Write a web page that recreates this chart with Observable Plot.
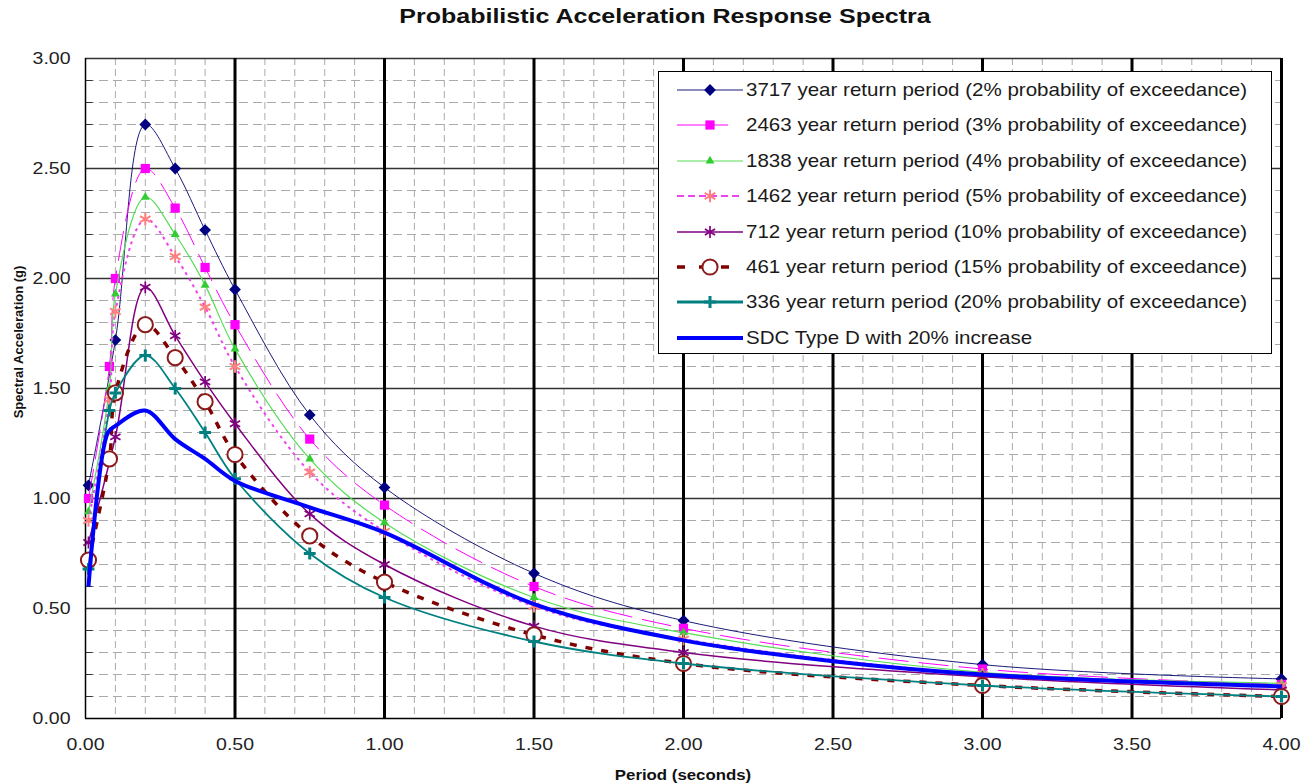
<!DOCTYPE html>
<html><head><meta charset="utf-8">
<script src="https://cdn.jsdelivr.net/npm/d3@7"></script>
<script src="https://cdn.jsdelivr.net/npm/@observablehq/plot@0.6"></script>
<style>
html,body{margin:0;padding:0;background:#fff;}
#wrap{position:relative;width:1303px;height:784px;overflow:hidden;font-family:"Liberation Sans",Arial,sans-serif;color:#111;}
#title{position:absolute;left:665px;top:16px;transform:translate(-50%,-50%) scaleX(1.22);white-space:nowrap;font-weight:bold;font-size:20.5px;}
#chart{position:absolute;left:0;top:34px;}
#ylab{position:absolute;left:18px;top:342px;transform:translate(-50%,-50%) rotate(-90deg);white-space:nowrap;font-weight:bold;font-size:13px;}
#xlab{position:absolute;left:683px;top:775px;transform:translate(-50%,-50%) scaleX(1.2);white-space:nowrap;font-weight:bold;font-size:14px;}
#legend{position:absolute;left:658px;top:71px;width:612px;height:281px;border:1px solid #000;background:#fff;}
.row{position:absolute;left:0;height:24px;width:612px;}
.row svg{position:absolute;left:10px;top:0;}
.row span{position:absolute;left:87px;top:0;line-height:24px;font-size:18.5px;white-space:nowrap;transform:scaleX(1.11);transform-origin:0 50%;color:#1a1a1a;}
</style></head>
<body><div id="wrap">
<div id="title">Probabilistic Acceleration Response Spectra</div>
<div id="chart"></div>
<div id="ylab">Spectral Acceleration (g)</div>
<div id="xlab">Period (seconds)</div>
<div id="legend"></div>
</div>
<script>
// ---- data ----
const periodsA = [0.01, 0.1, 0.2, 0.3, 0.4, 0.5, 0.75, 1.0, 1.5, 2.0, 3.0, 4.0];
const periodsB = [0.01, 0.08, 0.1, 0.2, 0.3, 0.4, 0.5, 0.75, 1.0, 1.5, 2.0, 3.0, 4.0];
const periodsSDC = [0.01, 0.075, 0.1, 0.2, 0.3, 0.4, 0.5, 0.75, 1.0, 1.5, 2.0, 2.5, 3.0, 4.0];

const sa3717 = [1.06, 1.72, 2.70, 2.50, 2.22, 1.95, 1.38, 1.05, 0.66, 0.445, 0.245, 0.18];
const sa2463 = [1.00, 1.60, 2.00, 2.50, 2.32, 2.05, 1.79, 1.27, 0.97, 0.60, 0.41, 0.225, 0.155];
const sa1838 = [0.94, 1.50, 1.93, 2.37, 2.20, 1.97, 1.68, 1.18, 0.89, 0.55, 0.39, 0.21, 0.16];
const sa1462 = [0.90, 1.45, 1.85, 2.27, 2.10, 1.87, 1.60, 1.12, 0.85, 0.51, 0.36, 0.20, 0.15];
const sa712  = [0.80, 1.28, 1.96, 1.74, 1.53, 1.34, 0.93, 0.70, 0.42, 0.30, 0.19, 0.13];
const sa461  = [0.72, 1.18, 1.48, 1.79, 1.64, 1.44, 1.20, 0.83, 0.62, 0.38, 0.25, 0.15, 0.10];
const sa336  = [0.68, 1.40, 1.48, 1.65, 1.50, 1.30, 1.09, 0.75, 0.55, 0.35, 0.25, 0.15, 0.10];
const saSDC  = [0.60, 1.30, 1.33, 1.40, 1.27, 1.18, 1.08, 0.96, 0.845, 0.52, 0.355, 0.26, 0.20, 0.146];

const seriesNames = [
  "3717 year return period (2% probability of exceedance)",
  "2463 year return period (3% probability of exceedance)",
  "1838 year return period (4% probability of exceedance)",
  "1462 year return period (5% probability of exceedance)",
  "712 year return period (10% probability of exceedance)",
  "461 year return period (15% probability of exceedance)",
  "336 year return period (20% probability of exceedance)",
  "SDC Type D with 20% increase"
];
const xTicks = [0, 0.5, 1, 1.5, 2, 2.5, 3, 3.5, 4];
const yTicks = [0, 0.5, 1, 1.5, 2, 2.5, 3];

// ---- styles ----
const styles = [
  {periods: periodsA, values: sa3717, stroke: "#1a1a7a", width: 1, dash: null, legendDash: null, symbol: "diamond2", r: 5.3, mfill: "#000080", mstroke: "none", msw: 0},
  {periods: periodsB, values: sa2463, stroke: "#ff00ff", width: 1, dash: "30,10", legendDash: null, legendEnd: 727, symbol: "square", r: 5.2, mfill: "#ff00ff", mstroke: "none", msw: 0},
  {periods: periodsB, values: sa1838, stroke: "#55dd55", width: 1.2, dash: null, legendDash: null, symbol: "triangle", r: 3.3, mfill: "#33cc33", mstroke: "none", msw: 0},
  {periods: periodsB, values: sa1462, stroke: "#ee44ee", width: 2, dash: "3,4", legendDash: "7,4", symbol: "asterisk", r: 5.8, mfill: "none", mstroke: "#ff8080", msw: 2},
  {periods: periodsA, values: sa712, stroke: "#800080", width: 1.5, dash: null, legendDash: null, symbol: "asterisk", r: 5.6, mfill: "none", mstroke: "#800080", msw: 1.7},
  {periods: periodsB, values: sa461, stroke: "#800000", width: 3.5, dash: "7,9", legendDash: "8,14", symbol: "circle", r: 7.6, mfill: "#fff", mstroke: "#8b1a1a", msw: 2},
  {periods: periodsB, values: sa336, stroke: "#008080", width: 1.8, dash: null, legendDash: null, legendWidth: 3, symbol: "plus", r: 3.9, mfill: "none", mstroke: "#008080", msw: 3},
  {periods: periodsSDC, values: saSDC, stroke: "#0000ff", width: 4, dash: null, legendDash: null, symbol: null}
];

const minorX = d3.range(1, 40).filter(i => i % 5 !== 0).map(i => i / 10);
const minorY = d3.range(1, 30).filter(i => i % 5 !== 0).map(i => i / 10);

const marks = [
  Plot.ruleX(minorX, {stroke: "#aaa", strokeWidth: 1, strokeDasharray: "7,4"}),
  Plot.ruleY(minorY, {stroke: "#aaa", strokeWidth: 1, strokeDasharray: "9,5"}),
  Plot.ruleY(minorY, {x1: 0, x2: 0.025, stroke: "#333", strokeWidth: 1}),
  Plot.ruleY(yTicks.filter(v => v > 0), {stroke: "#333", strokeWidth: 1.4}),
  Plot.ruleX(xTicks.filter(v => v > 0), {stroke: "#000", strokeWidth: 3}),
  Plot.ruleX([0], {stroke: "#000", strokeWidth: 1.5}),
  Plot.ruleY([0], {stroke: "#000", strokeWidth: 1.5})
];

styles.forEach((s, k) => {
  const rows = s.periods.map((p, i) => ({period: p, sa: s.values[i], series: seriesNames[k]}));
  marks.push(Plot.line(rows, {x: "period", y: "sa", stroke: s.stroke, strokeWidth: s.width,
    strokeDasharray: s.dash || undefined, curve: "catmull-rom", strokeLinecap: "butt"}));
  if (s.symbol) {
    marks.push(Plot.dot(rows, {x: "period", y: "sa", symbol: s.symbol, r: s.r,
      fill: s.mfill, stroke: s.mstroke, strokeWidth: s.msw}));
  }
});

const chart = Plot.plot({
  width: 1303, height: 750,
  marginLeft: 85, marginRight: 22, marginTop: 24, marginBottom: 66,
  x: {domain: [0, 4], ticks: xTicks, tickFormat: d3.format(".2f"), tickSize: 0, tickPadding: 20, label: null},
  y: {domain: [0, 3], ticks: yTicks, tickFormat: d3.format(".2f"), tickSize: 0, tickPadding: 15, label: null},
  style: {fontFamily: '"Liberation Sans", Arial, sans-serif', fontSize: "16px", color: "#222", background: "transparent", overflow: "visible"},
  marks
});
document.getElementById("chart").appendChild(chart);

// widen tick label glyphs like the reference
d3.select(chart).selectAll("text").each(function() {
  const x = +this.getAttribute("x") || 0;
  const t = this.getAttribute("transform") || "";
  this.setAttribute("transform", `${t} translate(${x},0) scale(1.22,1) translate(${-x},0)`);
});

// ---- legend ----
const legend = d3.select("#legend");
const symMap = {diamond2: d3.symbolDiamond2, square: d3.symbolSquare, triangle: d3.symbolTriangle,
  asterisk: d3.symbolAsterisk, circle: d3.symbolCircle, plus: d3.symbolPlus};
styles.forEach((s, k) => {
  const cy = 18 + k * 35.4;
  const row = legend.append("div").attr("class", "row").style("top", (cy - 12) + "px");
  const svg = row.append("svg").attr("width", 76).attr("height", 24);
  const x0 = 8, x1 = s.legendEnd ? s.legendEnd - 668 : 74;
  svg.append("line").attr("x1", x0).attr("x2", x1).attr("y1", 12).attr("y2", 12)
    .attr("stroke", s.stroke).attr("stroke-width", s.legendWidth || Math.max(s.width, 1.2))
    .attr("stroke-dasharray", s.legendDash || null);
  if (s.symbol) {
    svg.append("path").attr("transform", "translate(41,12)")
      .attr("d", d3.symbol(symMap[s.symbol], s.r * s.r * Math.PI)())
      .attr("fill", s.mfill).attr("stroke", s.mstroke).attr("stroke-width", s.msw);
  }
  row.append("span").text(seriesNames[k]);
});
</script>
</body></html>
